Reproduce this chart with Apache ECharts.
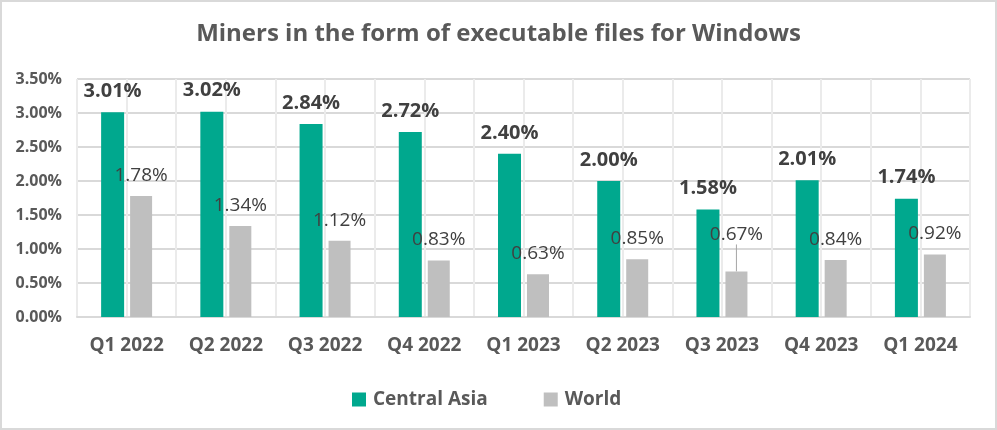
<!DOCTYPE html>
<html>
<head>
<meta charset="utf-8">
<script src="https://cdn.jsdelivr.net/npm/echarts@6/dist/echarts.min.js"></script>
<style>
html,body{margin:0;padding:0;background:#fff;}
#wrap{position:absolute;left:0;top:0;width:993px;height:426px;border:2px solid #d9d9d9;box-sizing:content-box;}
#chart{width:993px;height:426px;}
</style>
</head>
<body>
<div id="wrap"><div id="chart"></div></div>
<script>
const categories = ['Q1 2022','Q2 2022','Q3 2022','Q4 2022','Q1 2023','Q2 2023','Q3 2023','Q4 2023','Q1 2024'];
const centralAsia = [3.01, 3.02, 2.84, 2.72, 2.40, 2.00, 1.58, 2.01, 1.74];
const world = [1.78, 1.34, 1.12, 0.83, 0.63, 0.85, 0.67, 0.84, 0.92];
const yTicks = [0, 0.5, 1, 1.5, 2, 2.5, 3, 3.5];

const FONT = '"Open Sans", "Noto Sans", sans-serif';
const chart = echarts.init(document.getElementById('chart'));
const worldData = world.map((v, i) => i === 6 ? {value: v, labelLine: {show: true}} : {value: v});

chart.setOption({
  animation: false,
  textStyle: {fontFamily: FONT},
  title: {
    text: 'Miners in the form of executable files for Windows',
    left: 'center', top: 15,
    textStyle: {fontSize: 24, fontWeight: 'bold', color: '#595959', fontFamily: FONT}
  },
  legend: {
    bottom: 14, left: 345,
    itemWidth: 14, itemHeight: 14, itemGap: 56, icon: 'rect',
    textStyle: {fontSize: 19, fontWeight: 'bold', color: '#595959', fontFamily: FONT, padding: [0, 0, 0, 2]},
    data: ['Central Asia', 'World']
  },
  grid: {left: 75, right: 25, top: 77, bottom: 111, containLabel: false},
  xAxis: [{
    type: 'category', data: categories,
    axisLine: {lineStyle: {color: '#d9d9d9', width: 2}},
    axisTick: {show: false},
    axisLabel: {interval: 0, fontSize: 19, fontWeight: 'bold', color: '#595959', margin: 19, fontFamily: FONT},
    splitLine: {show: false}
  }, {
    type: 'value', min: 0, max: 18, interval: 1, position: 'bottom',
    axisLine: {show: false}, axisTick: {show: false}, axisLabel: {show: false},
    splitLine: {show: true, lineStyle: {color: '#ebebeb', width: 2}}
  }],
  yAxis: {
    type: 'value', min: 0, max: 3.5, interval: 0.5,
    axisLine: {show: false}, axisTick: {show: false},
    axisLabel: {
      fontSize: 16, fontWeight: 'bold', color: '#595959', margin: 15, fontFamily: FONT,
      formatter: v => yTicks.includes(v) ? v.toFixed(2) + '%' : ''
    },
    splitLine: {lineStyle: {color: '#d9d9d9', width: 2}}
  },
  series: [{
    name: 'Central Asia', type: 'bar', data: centralAsia,
    barWidth: 23, barGap: '26%',
    itemStyle: {color: '#00a88e'},
    label: {
      show: true, position: 'top', distance: 11,
      fontSize: 20, fontWeight: 'bold', color: '#404040', fontFamily: FONT,
      formatter: p => p.value.toFixed(2) + '%'
    }
  }, {
    name: 'World', type: 'bar', data: worldData,
    barWidth: 22,
    itemStyle: {color: '#bfbfbf'},
    label: {
      show: true, position: 'top', distance: 11,
      fontSize: 19, color: '#404040', fontFamily: FONT,
      formatter: p => p.value.toFixed(2) + '%'
    },
    labelLine: {show: false, lineStyle: {color: '#a6a6a6', width: 1}},
    labelLayout: p => p.dataIndex === 6 ? {dy: -16} : {}
  }]
});
</script>
</body>
</html>
